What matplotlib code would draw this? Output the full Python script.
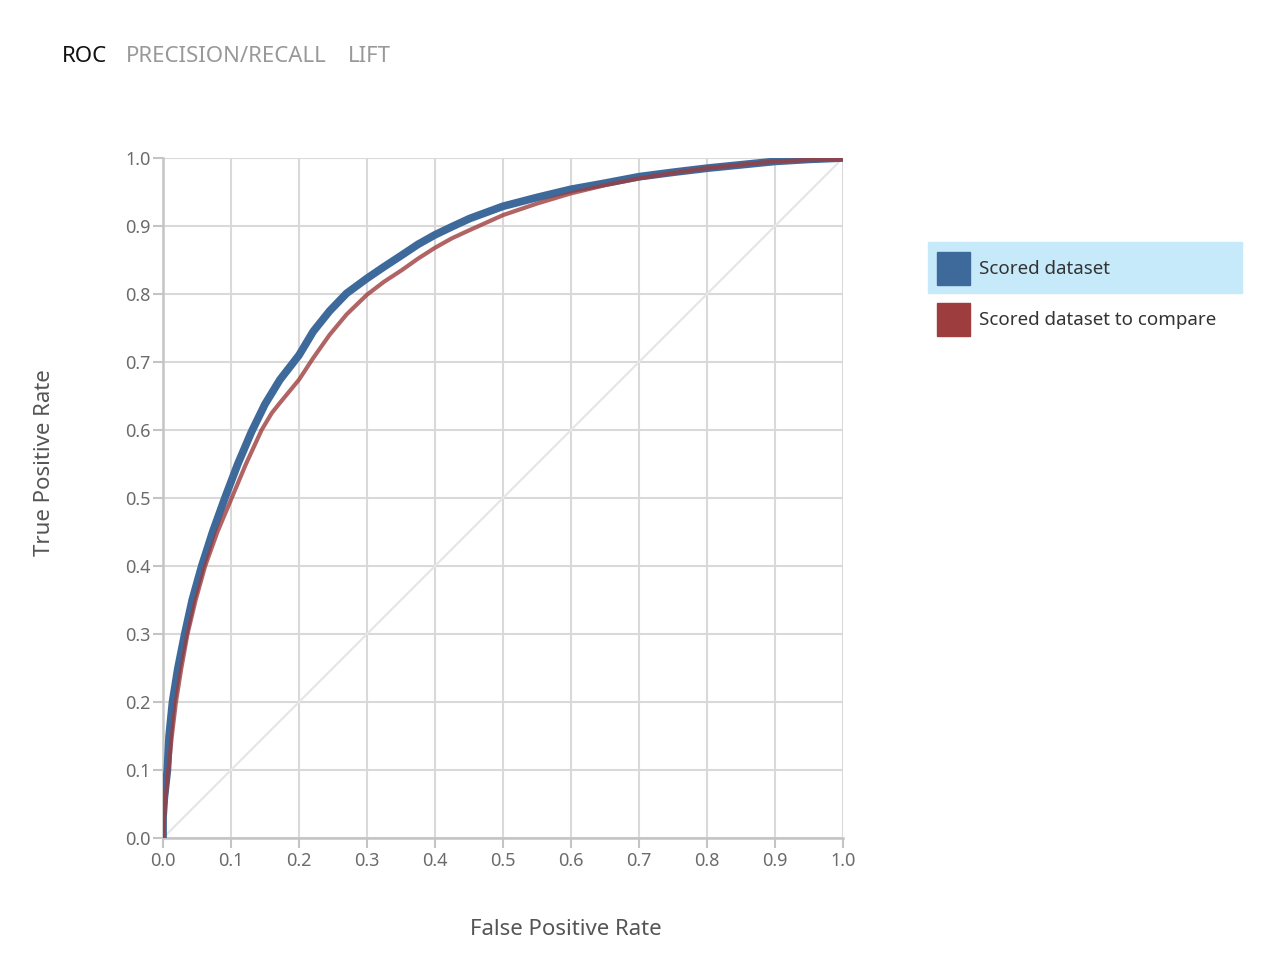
import matplotlib
matplotlib.use("Agg")
import matplotlib.pyplot as plt
from matplotlib.patches import Rectangle

# ROC points (false positive rate, true positive rate)
scored_fpr = [0.0, 0.0, 0.002, 0.0064, 0.009, 0.014, 0.022, 0.032, 0.043, 0.057,
              0.073, 0.091, 0.11, 0.13, 0.15, 0.172, 0.20, 0.221, 0.245, 0.27,
              0.30, 0.325, 0.351, 0.375, 0.40, 0.425, 0.451, 0.50, 0.55, 0.60,
              0.65, 0.70, 0.75, 0.80, 0.85, 0.90, 0.95, 1.0]
scored_tpr = [0.0, 0.03, 0.06, 0.10, 0.15, 0.20, 0.25, 0.30, 0.35, 0.40,
              0.45, 0.50, 0.55, 0.597, 0.638, 0.674, 0.71, 0.745, 0.775, 0.801,
              0.823, 0.84, 0.857, 0.873, 0.887, 0.899, 0.911, 0.929, 0.942, 0.954,
              0.963, 0.9725, 0.979, 0.985, 0.99, 0.995, 0.998, 1.0]

compare_fpr = [0.0, 0.003, 0.008, 0.013, 0.019, 0.027, 0.036, 0.048, 0.062, 0.08,
               0.101, 0.122, 0.145, 0.16, 0.172, 0.20, 0.221, 0.245, 0.27, 0.30,
               0.325, 0.351, 0.375, 0.40, 0.425, 0.451, 0.50, 0.55, 0.60, 0.65,
               0.70, 0.75, 0.80, 0.85, 0.90, 0.95, 1.0]
compare_tpr = [0.0, 0.05, 0.10, 0.15, 0.20, 0.25, 0.30, 0.35, 0.40, 0.45,
               0.50, 0.55, 0.60, 0.625, 0.64, 0.674, 0.706, 0.74, 0.77, 0.799,
               0.818, 0.835, 0.852, 0.868, 0.882, 0.894, 0.916, 0.933, 0.948, 0.96,
               0.97, 0.978, 0.985, 0.99, 0.995, 0.997, 0.9985]

ticks = [0.0, 0.1, 0.2, 0.3, 0.4, 0.5, 0.6, 0.7, 0.8, 0.9, 1.0]
tabs = ["ROC", "PRECISION/RECALL", "LIFT"]
legend_labels = ["Scored dataset", "Scored dataset to compare"]

blue = "#3e6a9b"
red = "#9e3d3d"

plt.rcParams["font.family"] = ["Noto Sans", "DejaVu Sans"]

fig = plt.figure(figsize=(12.68, 9.72), dpi=100)
ax = fig.add_axes([163 / 1268, 134 / 972, 680 / 1268, 680 / 972])

ax.plot([0, 1], [0, 1], color="#e6e6e6", lw=1.6, zorder=2)
ax.plot(scored_fpr, scored_tpr, color=blue, lw=5.6, solid_capstyle="butt",
        solid_joinstyle="round", zorder=3)
ax.plot(compare_fpr, compare_tpr, color=red, lw=3.0, alpha=0.8,
        solid_capstyle="butt", solid_joinstyle="round", zorder=4)

ax.set_xlim(0, 1)
ax.set_ylim(0, 1)
ax.set_xticks(ticks)
ax.set_yticks(ticks)
ax.set_xticklabels([f"{t:.1f}" for t in ticks])
ax.set_yticklabels([f"{t:.1f}" for t in ticks])
ax.grid(True, color="#d9d9d9", lw=1.5, zorder=1)
ax.set_axisbelow(True)
ax.tick_params(axis="both", direction="out", length=7, width=1.5,
               color="#c4c4c4", labelcolor="#6b6b6b", labelsize=13)
ax.tick_params(axis="x", pad=3)
ax.tick_params(axis="y", pad=2)
for side in ["top", "right"]:
    ax.spines[side].set_visible(False)
for side in ["left", "bottom"]:
    ax.spines[side].set_color("#c4c4c4")
    ax.spines[side].set_linewidth(1.8)
for lbl in ax.get_xticklabels() + ax.get_yticklabels():
    lbl.set_clip_on(False)

fig.text(566 / 1268, 1 - 929 / 972, "False Positive Rate", ha="center", va="center",
         fontsize=16, color="#555555")
fig.text(45 / 1268, 1 - 463 / 972, "True Positive Rate", ha="center", va="center",
         rotation=90, fontsize=16, color="#555555")

# tab header
tab_x = [62, 126, 348]
tab_colors = ["#111111", "#999999", "#999999"]
for x, label, c in zip(tab_x, tabs, tab_colors):
    fig.text(x / 1268, 1 - 56 / 972, label, ha="left", va="center",
             fontsize=16, color=c)

# legend
fig.patches.append(Rectangle((928 / 1268, 1 - 293 / 972), 314 / 1268, 51 / 972,
                             transform=fig.transFigure, color="#c7eafa", zorder=0))
for i, (label, c) in enumerate(zip(legend_labels, [blue, red])):
    top = 252 + i * 51
    fig.patches.append(Rectangle((937 / 1268, 1 - (top + 33) / 972), 33 / 1268, 33 / 972,
                                 transform=fig.transFigure, color=c, zorder=1))
    fig.text(979 / 1268, 1 - (top + 17) / 972, label, ha="left", va="center",
             fontsize=13.5, color="#333333")

fig.savefig("out.png", dpi=100)
